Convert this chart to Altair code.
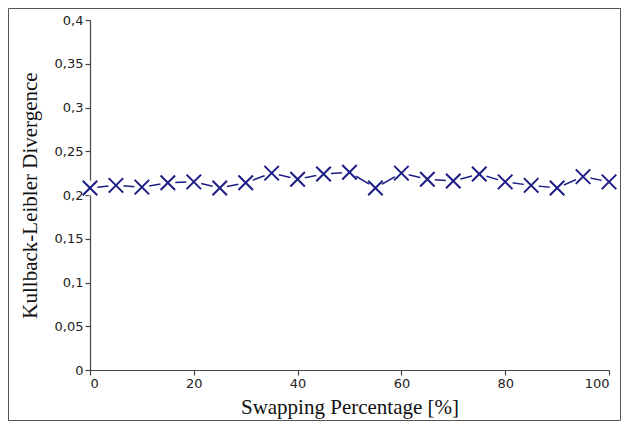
import altair as alt
import pandas as pd

swap_pct = [0, 5, 10, 15, 20, 25, 30, 35, 40, 45, 50, 55, 60, 65, 70, 75, 80, 85, 90, 95, 100]
kl_div = [0.208, 0.211, 0.209, 0.214, 0.215, 0.208, 0.214, 0.225, 0.218, 0.224, 0.226,
          0.208, 0.225, 0.218, 0.216, 0.224, 0.215, 0.211, 0.208, 0.221, 0.215]

df = pd.DataFrame({"x": swap_pct, "y": kl_div})
navy = "#1c1c85"

x_enc = alt.X("x:Q", scale=alt.Scale(domain=[0, 100], nice=False),
              axis=alt.Axis(values=[0, 20, 40, 60, 80, 100], title="Swapping Percentage [%]",
                            titlePadding=6))
y_enc = alt.Y("y:Q", scale=alt.Scale(domain=[0, 0.4], nice=False),
              axis=alt.Axis(values=[0, 0.05, 0.1, 0.15, 0.2, 0.25, 0.3, 0.35, 0.4],
                            labelExpr="replace(format(datum.value, '~g'), '.', ',')",
                            title="Kullback-Leibler Divergence", titlePadding=14))

base = alt.Chart(df)
line = base.mark_line(color=navy, strokeWidth=1.5).encode(x=x_enc, y=y_enc)
gap = base.mark_point(shape="circle", filled=True, fill="white", opacity=1, size=230, strokeWidth=0).encode(x="x:Q", y="y:Q")
cross = base.mark_point(shape="M-1,-1L1,1M-1,1L1,-1", filled=False, color=navy, opacity=1,
                        size=210, strokeWidth=2).encode(x="x:Q", y="y:Q")

frame = alt.Chart(pd.DataFrame({"a": [0]})).mark_rect(
    fill=None, stroke="#555", strokeWidth=1, clip=False
).encode(x=alt.value(-81.5), x2=alt.value(530.5), y=alt.value(-11.5), y2=alt.value(400.5))

chart = alt.layer(line, gap, cross, frame).properties(
    width=519, height=350,
    autosize=alt.AutoSizeParams(type="none"),
    padding={"left": 82, "top": 12, "right": 12, "bottom": 51},
).configure_view(stroke=None).configure_axis(
    grid=False, domainColor="#444", tickColor="#444", tickSize=5,
    labelFont="DejaVu Sans", labelFontSize=13, labelColor="#222",
    titleFont="Liberation Serif", titleFontSize=21, titleFontWeight="normal", titleColor="#111",
    domainWidth=1.2, tickWidth=1.2
)

chart.save("out.html", embed_options={"renderer": "svg", "actions": False})
